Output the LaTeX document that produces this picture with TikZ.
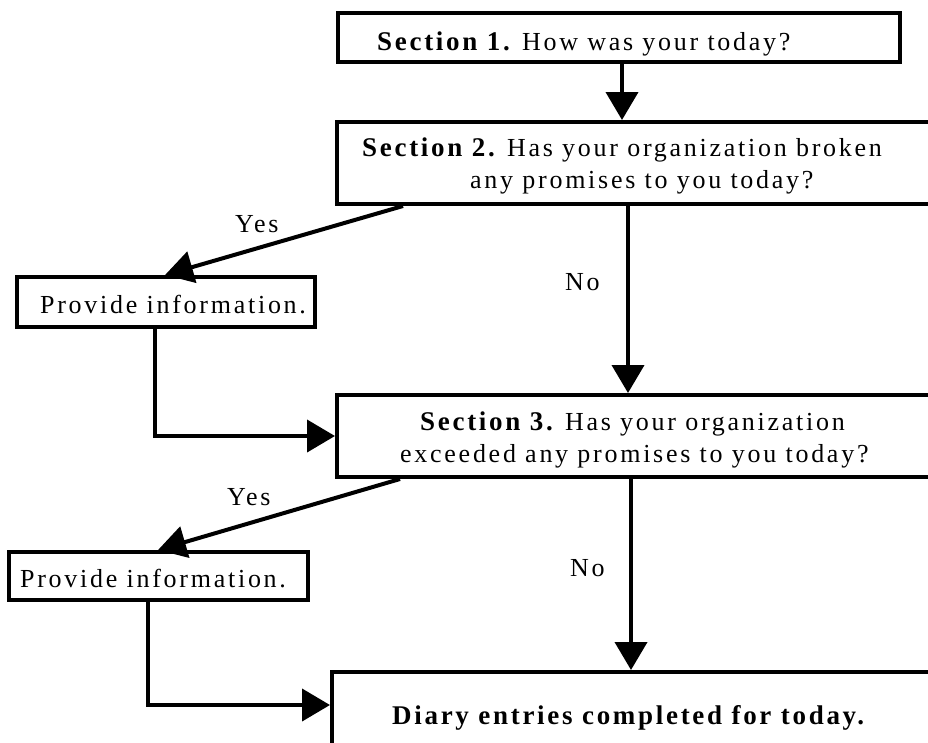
\documentclass[tikz,border=0pt]{standalone}
\usepackage{fontspec}
\setmainfont{Liberation Serif}
\newfontfamily\regf[LetterSpace=10.5]{Liberation Serif}
\newfontfamily\boldf[LetterSpace=10]{Liberation Serif Bold}
\newcommand\secb[1]{{\fontsize{27}{31}\boldf #1}}
\usetikzlibrary{arrows.meta}
\begin{document}
\begin{tikzpicture}[x=1pt,y=-1pt,
  box/.style={draw,line width=4pt,minimum width=#1,inner sep=0pt},
  arr/.style={line width=4pt,-{Triangle[length=28pt,width=32pt]}},
  txt/.style={inner sep=0pt,anchor=base west,font=\fontsize{26}{30}\regf},
  lbl/.style={inner sep=0pt,anchor=base west,font=\fontsize{26}{30}\regf}]
\useasboundingbox (0,0) rectangle (928,742);
\clip (0,0) rectangle (928,742);
% boxes
\node[box=562pt,minimum height=49pt] (s1) at (619,37.5) {};
\node[box=613pt,minimum height=82pt] (s2) at (643.5,163) {};
\node[box=298pt,minimum height=50pt] (p1) at (166,302) {};
\node[box=613pt,minimum height=82pt] (s3) at (643.5,436) {};
\node[box=299pt,minimum height=48pt] (p2) at (158.5,576) {};
\node[box=620pt,minimum height=160pt] (d) at (642,752) {};
% texts
\node[txt] (t1) at (377,50) {\secb{Section 1.} How was your today?};
\node[txt] (t2a) at (362,156) {\secb{Section 2.} Has your organization broken};
\node[txt] (t2b) at (470,188) {any promises to you today?};
\node[txt] (tp1) at (40,313) {Provide information.};
\node[txt] (t3a) at (420,430) {\secb{Section 3.} Has your organization};
\node[txt] (t3b) at (400,462) {exceeded any promises to you today?};
\node[txt] (tp2) at (20,587) {Provide information.};
\node[txt] (td) at (392,724) {\secb{Diary entries completed for today.}};
% connectors
\draw[arr] (s1.south -| 622,0) -- (s2.north -| 622,0);
\draw[arr] (s2.south -| 403,0) -- (p1.north -| 165,0);
\draw[arr] (p1.south -| 155,0) |- (s3.west);
\draw[arr] (s2.south -| 628,0) -- (s3.north -| 628,0);
\draw[arr] (s3.south -| 400,0) -- (p2.north -| 158,0);
\draw[arr] (p2.south -| 148,0) |- (d.west |- 0,705);
\draw[arr] (s3.south -| 631,0) -- (d.north -| 631,0);
% labels
\node[lbl] (y1) at (235,232) {Yes};
\node[lbl] (n1) at (565,290) {No};
\node[lbl] (y2) at (227,505) {Yes};
\node[lbl] (n2) at (570,576) {No};
\end{tikzpicture}
\end{document}
